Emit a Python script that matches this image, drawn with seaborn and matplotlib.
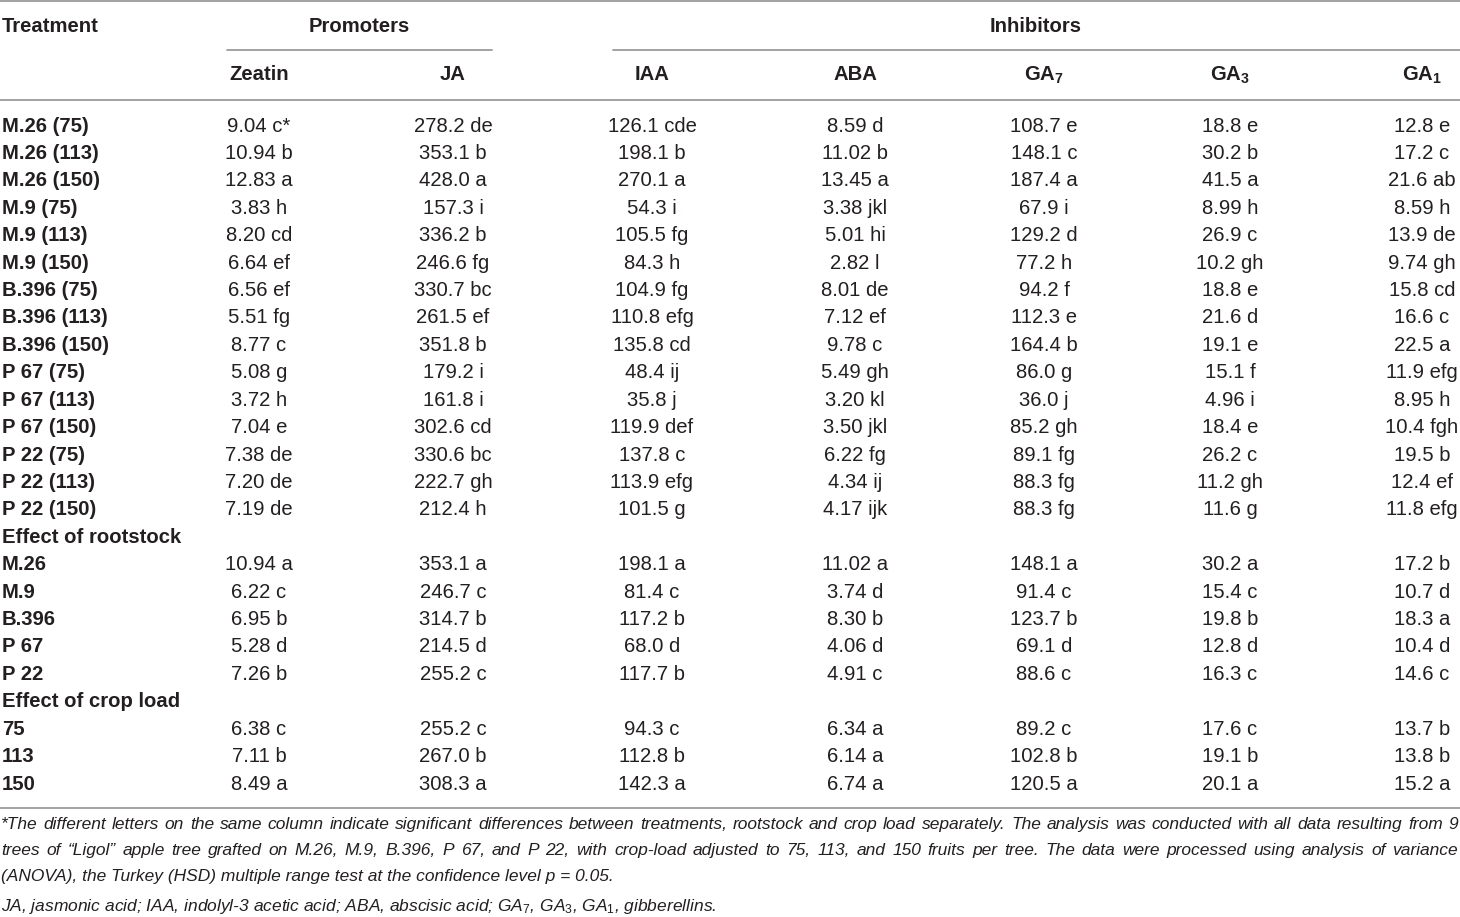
import matplotlib
matplotlib.use("Agg")
import matplotlib.pyplot as plt
import seaborn as sns
import pandas as pd
from matplotlib import font_manager

# Table content
treatments = ["M.26 (75)", "M.26 (113)", "M.26 (150)", "M.9 (75)", "M.9 (113)", "M.9 (150)",
              "B.396 (75)", "B.396 (113)", "B.396 (150)", "P 67 (75)", "P 67 (113)", "P 67 (150)",
              "P 22 (75)", "P 22 (113)", "P 22 (150)"]
rootstocks = ["M.26", "M.9", "B.396", "P 67", "P 22"]
crop_loads = ["75", "113", "150"]
group_titles = ["Effect of rootstock", "Effect of crop load"]

header_groups = ["Promoters", "Inhibitors"]
columns = ["Zeatin", "JA", "IAA", "ABA", "GA$_\\mathbf{7}$", "GA$_\\mathbf{3}$", "GA$_\\mathbf{1}$"]

zeatin = ["9.04 c*", "10.94 b", "12.83 a", "3.83 h", "8.20 cd", "6.64 ef", "6.56 ef", "5.51 fg",
          "8.77 c", "5.08 g", "3.72 h", "7.04 e", "7.38 de", "7.20 de", "7.19 de",
          "10.94 a", "6.22 c", "6.95 b", "5.28 d", "7.26 b",
          "6.38 c", "7.11 b", "8.49 a"]
ja = ["278.2 de", "353.1 b", "428.0 a", "157.3 i", "336.2 b", "246.6 fg", "330.7 bc", "261.5 ef",
      "351.8 b", "179.2 i", "161.8 i", "302.6 cd", "330.6 bc", "222.7 gh", "212.4 h",
      "353.1 a", "246.7 c", "314.7 b", "214.5 d", "255.2 c",
      "255.2 c", "267.0 b", "308.3 a"]
iaa = ["126.1 cde", "198.1 b", "270.1 a", "54.3 i", "105.5 fg", "84.3 h", "104.9 fg", "110.8 efg",
       "135.8 cd", "48.4 ij", "35.8 j", "119.9 def", "137.8 c", "113.9 efg", "101.5 g",
       "198.1 a", "81.4 c", "117.2 b", "68.0 d", "117.7 b",
       "94.3 c", "112.8 b", "142.3 a"]
aba = ["8.59 d", "11.02 b", "13.45 a", "3.38 jkl", "5.01 hi", "2.82 l", "8.01 de", "7.12 ef",
       "9.78 c", "5.49 gh", "3.20 kl", "3.50 jkl", "6.22 fg", "4.34 ij", "4.17 ijk",
       "11.02 a", "3.74 d", "8.30 b", "4.06 d", "4.91 c",
       "6.34 a", "6.14 a", "6.74 a"]
ga7 = ["108.7 e", "148.1 c", "187.4 a", "67.9 i", "129.2 d", "77.2 h", "94.2 f", "112.3 e",
       "164.4 b", "86.0 g", "36.0 j", "85.2 gh", "89.1 fg", "88.3 fg", "88.3 fg",
       "148.1 a", "91.4 c", "123.7 b", "69.1 d", "88.6 c",
       "89.2 c", "102.8 b", "120.5 a"]
ga3 = ["18.8 e", "30.2 b", "41.5 a", "8.99 h", "26.9 c", "10.2 gh", "18.8 e", "21.6 d",
       "19.1 e", "15.1 f", "4.96 i", "18.4 e", "26.2 c", "11.2 gh", "11.6 g",
       "30.2 a", "15.4 c", "19.8 b", "12.8 d", "16.3 c",
       "17.6 c", "19.1 b", "20.1 a"]
ga1 = ["12.8 e", "17.2 c", "21.6 ab", "8.59 h", "13.9 de", "9.74 gh", "15.8 cd", "16.6 c",
       "22.5 a", "11.9 efg", "8.95 h", "10.4 fgh", "19.5 b", "12.4 ef", "11.8 efg",
       "17.2 b", "10.7 d", "18.3 a", "10.4 d", "14.6 c",
       "13.7 b", "13.8 b", "15.2 a"]

footnote = [
    "*The different letters on the same column indicate significant differences between treatments, "
    "rootstock and crop load separately. The analysis was conducted with all data resulting from 9",
    "trees of \u201cLigol\u201d apple tree grafted on M.26, M.9, B.396, P 67, and P 22, with crop-load "
    "adjusted to 75, 113, and 150 fruits per tree. The data were processed using analysis of variance",
    "(ANOVA), the Turkey (HSD) multiple range test at the confidence level p = 0.05.",
    "JA, jasmonic acid; IAA, indolyl-3 acetic acid; ABA, abscisic acid; GA$_\\mathit{7}$, "
    "GA$_\\mathit{3}$, GA$_\\mathit{1}$, gibberellins.",
]


def has_font(name):
    try:
        font_manager.findfont(font_manager.FontProperties(family=name), fallback_to_default=False)
        return True
    except ValueError:
        return False


sns.set_theme(style="white")
base = "Liberation Sans"
narrow = "Liberation Sans Narrow" if has_font("Liberation Sans Narrow") else base
plt.rcParams["font.family"] = [base, "DejaVu Sans"]
plt.rcParams["mathtext.fontset"] = "custom"
plt.rcParams["mathtext.rm"] = base
plt.rcParams["mathtext.bf"] = base + ":bold"
plt.rcParams["mathtext.it"] = narrow + ":italic"

# Build the table rows
labels = treatments + [group_titles[0]] + rootstocks + [group_titles[1]] + crop_loads
bold_only = [False] * 15 + [True] + [False] * 5 + [True] + [False] * 3
values = pd.DataFrame({"Zeatin": zeatin, "JA": ja, "IAA": iaa, "ABA": aba,
                       "GA7": ga7, "GA3": ga3, "GA1": ga1})

fig = plt.figure(figsize=(14.6, 9.17), dpi=100)
ax = fig.add_axes([0, 0, 1, 1])
ax.set_xlim(0, 1460)
ax.set_ylim(917, 0)
ax.axis("off")

ink = "#231f20"
rule = "#9b9b9b"
fs = 14.6
col_x = [259, 453, 652, 855, 1044, 1230, 1422]

# Rules
ax.plot([0, 1460], [1, 1], color=rule, lw=1.3)
ax.plot([227, 492], [50, 50], color=rule, lw=1.3)
ax.plot([613, 1460], [50, 50], color=rule, lw=1.3)
ax.plot([0, 1460], [100, 100], color=rule, lw=1.3)
ax.plot([0, 1460], [808, 808], color=rule, lw=1.3)

# Header
ax.text(2, 26, "Treatment", fontsize=fs, fontweight="bold", color=ink, va="center", ha="left")
ax.text(359, 26, header_groups[0], fontsize=fs, fontweight="bold", color=ink, va="center", ha="center")
ax.text(1036, 26, header_groups[1], fontsize=fs, fontweight="bold", color=ink, va="center", ha="center")
for x, c in zip(col_x, columns):
    ax.text(x, 75, c, fontsize=fs, fontweight="bold", color=ink, va="center", ha="center")

# Body
y0, dy = 126, 27.42
k = 0
for i, (lab, grp) in enumerate(zip(labels, bold_only)):
    y = y0 + i * dy
    ax.text(2, y, lab, fontsize=fs, fontweight="bold", color=ink, va="center", ha="left")
    if grp:
        continue
    for x, col in zip(col_x, values.columns):
        ax.text(x, y, values[col].iloc[k], fontsize=fs, color=ink, va="center", ha="center")
    k += 1

# Footnote, first two lines justified (baseline aligned)
renderer = fig.canvas.get_renderer()
foot_kw = dict(fontsize=12.5, family=narrow, style="italic", color=ink, va="baseline", ha="left")
foot_y = [829, 855, 881, 911]


def justify(line, y, x0, x1):
    words = line.split(" ")
    texts = [ax.text(0, y, w, **foot_kw) for w in words]
    widths = [t.get_window_extent(renderer).width for t in texts]
    gap = (x1 - x0 - sum(widths)) / (len(words) - 1)
    x = x0
    for t, w in zip(texts, widths):
        t.set_x(x)
        x += w + gap


justify(footnote[0], foot_y[0], 1, 1458)
justify(footnote[1], foot_y[1], 1, 1458)
ax.text(1, foot_y[2], footnote[2], **foot_kw)
ax.text(1, foot_y[3], footnote[3], **foot_kw)

fig.savefig("out.png", dpi=100)
